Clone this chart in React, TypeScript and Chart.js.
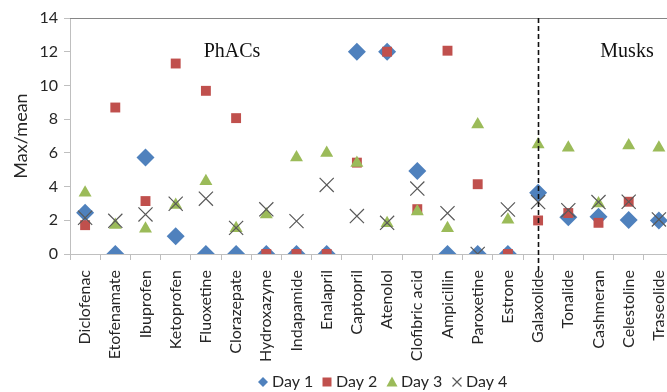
import React, { useEffect, useRef } from 'react';
import { Chart, registerables } from 'chart.js';

Chart.register(...registerables);

const categories = [
  'Diclofenac', 'Etofenamate', 'Ibuprofen', 'Ketoprofen', 'Fluoxetine',
  'Clorazepate', 'Hydroxazyne', 'Indapamide', 'Enalapril', 'Captopril',
  'Atenolol', 'Clofibric acid', 'Ampicillin', 'Paroxetine', 'Estrone',
  'Galaxolide', 'Tonalide', 'Cashmeran', 'Celestoline', 'Traseolide',
];

const day1 = [2.45, 0, 5.72, 1.05, 0, 0, 0, 0, 0, 12.0, 12.0, 4.93, 0, 0, 0, 3.63, 2.18, 2.21, 2.01, 1.99];
const day2 = [1.71, 8.69, 3.14, 11.3, 9.68, 8.06, 0, 0, 0, 5.42, 12.0, 2.66, 12.06, 4.14, 0, 1.99, 2.43, 1.85, 3.1, null];
const day3 = [3.63, 1.72, 1.5, 2.9, 4.31, 1.53, 2.35, 5.72, 5.99, 5.4, 1.82, 2.52, 1.53, 7.68, 2.03, 6.49, 6.3, 3.0, 6.43, 6.3];
const day4 = [2.15, 1.97, 2.35, 2.98, 3.28, 1.55, 2.65, 1.95, 4.1, 2.25, 1.85, 3.88, 2.42, 0, 2.64, 3.08, 2.6, 3.08, 3.1, 2.05];

const seriesNames = ['Day 1', 'Day 2', 'Day 3', 'Day 4'];
const seriesColors = ['#4F81BD', '#C0504D', '#9BBB59', '#595959'];
const yTitle = 'Max/mean';
const groupLabels = ['PhACs', 'Musks'];
const dividerCategory = 'Galaxolide';

const FONT = 'Lato, "Noto Sans", sans-serif';

function drawLegendMarker(ctx: CanvasRenderingContext2D, kind: number, x: number, y: number, color: string) {
  ctx.save();
  ctx.fillStyle = color;
  ctx.strokeStyle = color;
  ctx.beginPath();
  if (kind === 0) {
    const r = 5;
    ctx.moveTo(x - r, y); ctx.lineTo(x, y - r); ctx.lineTo(x + r, y); ctx.lineTo(x, y + r);
    ctx.closePath(); ctx.fill();
  } else if (kind === 1) {
    ctx.rect(x - 4.5, y - 4.5, 9, 9); ctx.fill();
  } else if (kind === 2) {
    ctx.moveTo(x, y - 5.5); ctx.lineTo(x + 5.5, y + 4.5); ctx.lineTo(x - 5.5, y + 4.5);
    ctx.closePath(); ctx.fill();
  } else {
    const r = 4.5;
    ctx.lineWidth = 1.2;
    ctx.moveTo(x - r, y - r); ctx.lineTo(x + r, y + r);
    ctx.moveTo(x + r, y - r); ctx.lineTo(x - r, y + r);
    ctx.stroke();
  }
  ctx.restore();
}

const overlayPlugin = {
  id: 'overlay',
  beforeDatasetsDraw(chart: any) {
    const { ctx, chartArea: a } = chart;
    ctx.save();
    ctx.strokeStyle = '#868686';
    ctx.lineWidth = 1;
    ctx.beginPath();
    ctx.moveTo(a.left, a.top + 0.5);
    ctx.lineTo(a.right, a.top + 0.5);
    ctx.moveTo(a.right - 0.5, a.top);
    ctx.lineTo(a.right - 0.5, a.bottom);
    ctx.stroke();
    ctx.restore();
  },
  afterDraw(chart: any) {
    const { ctx, chartArea: a } = chart;
    const xs = chart.scales.x;
    const dx = Math.round(xs.getPixelForValue(categories.indexOf(dividerCategory))) + 0.5;
    ctx.save();
    ctx.strokeStyle = '#111111';
    ctx.lineWidth = 1.6;
    ctx.setLineDash([5, 3]);
    ctx.beginPath();
    ctx.moveTo(dx, a.top);
    ctx.lineTo(dx, a.bottom + 18);
    ctx.stroke();
    ctx.setLineDash([]);

    ctx.fillStyle = '#111111';
    ctx.font = '20px "Liberation Serif", "DejaVu Serif", serif';
    ctx.textBaseline = 'alphabetic';
    ctx.textAlign = 'center';
    ctx.fillText(groupLabels[0], 232, 57);
    ctx.fillText(groupLabels[1], 627, 57);

    // legend
    const markerX = [263, 327, 392, 457];
    const ly = 382;
    ctx.font = '16px ' + FONT;
    ctx.textAlign = 'left';
    ctx.textBaseline = 'middle';
    for (let i = 0; i < seriesNames.length; i++) {
      drawLegendMarker(ctx, i, markerX[i], ly, seriesColors[i]);
      ctx.fillStyle = '#262626';
      ctx.fillText(seriesNames[i], markerX[i] + 9, ly);
    }
    ctx.restore();
  },
};

export default function App() {
  const ref = useRef<HTMLCanvasElement | null>(null);

  useEffect(() => {
    if (!ref.current) return;
    const chart = new Chart(ref.current, {
      type: 'line',
      data: {
        labels: categories,
        datasets: [
          {
            label: seriesNames[0], data: day1, showLine: false, order: 4,
            pointStyle: 'rectRot', pointRadius: 9, pointBorderWidth: 0,
            backgroundColor: seriesColors[0], borderColor: seriesColors[0],
          },
          {
            label: seriesNames[1], data: day2, showLine: false, order: 3,
            pointStyle: 'rect', pointRadius: 7, pointBorderWidth: 0,
            backgroundColor: seriesColors[1], borderColor: seriesColors[1],
          },
          {
            label: seriesNames[2], data: day3, showLine: false, order: 2,
            pointStyle: 'triangle', pointRadius: 7.5, pointBorderWidth: 0,
            backgroundColor: seriesColors[2], borderColor: seriesColors[2],
          },
          {
            label: seriesNames[3], data: day4, showLine: false, order: 1,
            pointStyle: 'crossRot', pointRadius: 10, pointBorderWidth: 1.2,
            backgroundColor: seriesColors[3], borderColor: seriesColors[3],
          },
        ],
      },
      options: {
        responsive: false,
        animation: false,
        devicePixelRatio: 1,
        layout: { padding: { top: 18, right: 26, left: 0, bottom: 0 } },
        plugins: {
          legend: { display: false },
          tooltip: { enabled: false },
        },
        scales: {
          x: {
            type: 'category',
            offset: true,
            grid: {
              offset: true,
              drawOnChartArea: false,
              drawTicks: true,
              tickLength: 6,
              color: '#BFBFBF',
            },
            border: { color: '#BFBFBF', width: 1 },
            ticks: {
              autoSkip: false,
              minRotation: 90,
              maxRotation: 90,
              padding: 10,
              color: '#262626',
              font: { family: FONT, size: 16 },
            },
            afterFit(scale: any) { scale.height = 138; },
          },
          y: {
            min: 0,
            max: 14,
            ticks: {
              stepSize: 2,
              padding: 6,
              color: '#262626',
              font: { family: FONT, size: 16 },
            },
            grid: {
              drawOnChartArea: false,
              drawTicks: true,
              tickLength: 6,
              color: '#BFBFBF',
            },
            border: { color: '#BFBFBF', width: 1 },
            title: {
              display: true,
              text: yTitle,
              color: '#262626',
              font: { family: FONT, size: 18 },
              padding: { top: 10, bottom: 0 },
            },
            afterFit(scale: any) { scale.width = 70; },
          },
        },
      },
      plugins: [overlayPlugin],
    } as any);
    return () => chart.destroy();
  }, []);

  return (
    <div style={{ position: 'fixed', left: 0, top: 0, width: 667, height: 392, overflow: 'hidden', background: '#ffffff' }}>
      <canvas ref={ref} width={700} height={392} style={{ display: 'block', width: 700, height: 392 }} />
    </div>
  );
}
